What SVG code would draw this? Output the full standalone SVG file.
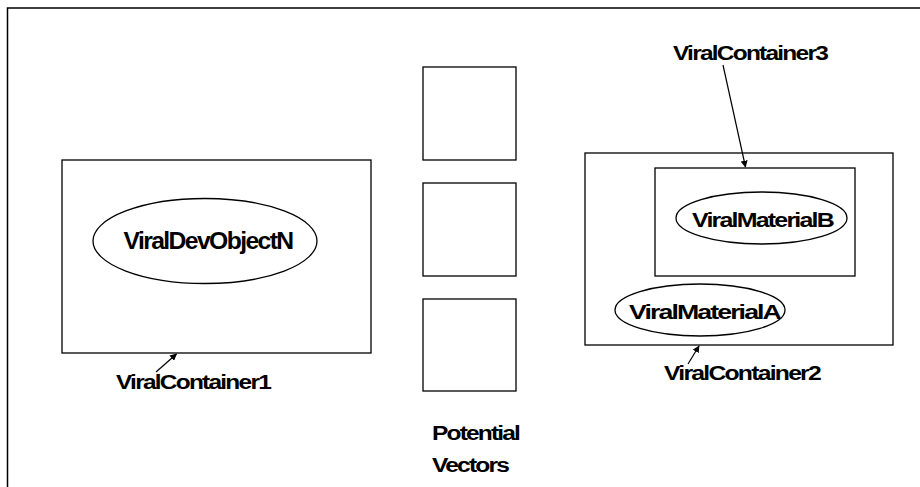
<svg xmlns="http://www.w3.org/2000/svg" width="920" height="487" viewBox="0 0 920 487">
<defs>
<style>
.box{fill:#fff;stroke:#000;stroke-width:1.3}
.ell{fill:#fff;stroke:#000;stroke-width:1.3}
.t{font-family:"Liberation Sans",Arial,sans-serif;font-weight:bold;fill:#000;letter-spacing:-1.5px}
.c{stroke:#000;stroke-width:1.2;fill:none}
</style>
<marker id="ah" viewBox="0 0 10 10" refX="9" refY="5" markerWidth="7" markerHeight="7" markerUnits="userSpaceOnUse" orient="auto">
<path d="M0,0 L10,5 L0,10 z" fill="#000"/>
</marker>
</defs>
<rect width="920" height="487" fill="#fff"/>
<path d="M7.5,487 V8 H920" fill="none" stroke="#000" stroke-width="1.5"/>

<g id="viralContainer1">
<rect class="box" x="62" y="160" width="309" height="193"/>
</g>
<g id="viralDevObjectN">
<ellipse class="ell" cx="205" cy="241" rx="112" ry="42.5"/>
<text class="t" x="208" y="249" font-size="23" text-anchor="middle" textLength="169" lengthAdjust="spacingAndGlyphs">ViralDevObjectN</text>
</g>
<g id="label1">
<text class="t" x="116" y="389" font-size="21" textLength="154" lengthAdjust="spacingAndGlyphs">ViralContainer1</text>
</g>

<g id="vector1"><rect class="box" x="423" y="67" width="93" height="93"/></g>
<g id="vector2"><rect class="box" x="423" y="183" width="93" height="93"/></g>
<g id="vector3"><rect class="box" x="423" y="299" width="93" height="92"/></g>
<g id="potentialVectors">
<text class="t" x="432" y="440" font-size="20" textLength="87" lengthAdjust="spacingAndGlyphs">Potential</text>
<text class="t" x="432" y="472" font-size="20" textLength="76" lengthAdjust="spacingAndGlyphs">Vectors</text>
</g>

<g id="viralContainer2">
<rect class="box" x="585" y="153" width="308" height="192"/>
</g>
<g id="viralContainer3">
<rect class="box" x="655" y="168" width="200" height="108"/>
</g>
<g id="viralMaterialB">
<ellipse class="ell" cx="761.5" cy="218" rx="85.5" ry="26"/>
<text class="t" x="762.5" y="227" font-size="21" text-anchor="middle" textLength="141" lengthAdjust="spacingAndGlyphs">ViralMaterialB</text>
</g>
<g id="viralMaterialA">
<ellipse class="ell" cx="700" cy="310" rx="85" ry="26"/>
<text class="t" x="704.5" y="319" font-size="21" text-anchor="middle" textLength="151" lengthAdjust="spacingAndGlyphs">ViralMaterialA</text>
</g>
<g id="label3">
<text class="t" x="673" y="60" font-size="21" textLength="154" lengthAdjust="spacingAndGlyphs">ViralContainer3</text>
</g>
<g id="label2">
<text class="t" x="664" y="380" font-size="21" textLength="156" lengthAdjust="spacingAndGlyphs">ViralContainer2</text>
</g>

<g id="connectors">
<line class="c" x1="156" y1="372" x2="176.5" y2="354" marker-end="url(#ah)"/>
<line class="c" x1="723" y1="65" x2="745.5" y2="167" marker-end="url(#ah)"/>
<line class="c" x1="688" y1="364" x2="699" y2="346" marker-end="url(#ah)"/>
</g>
</svg>
